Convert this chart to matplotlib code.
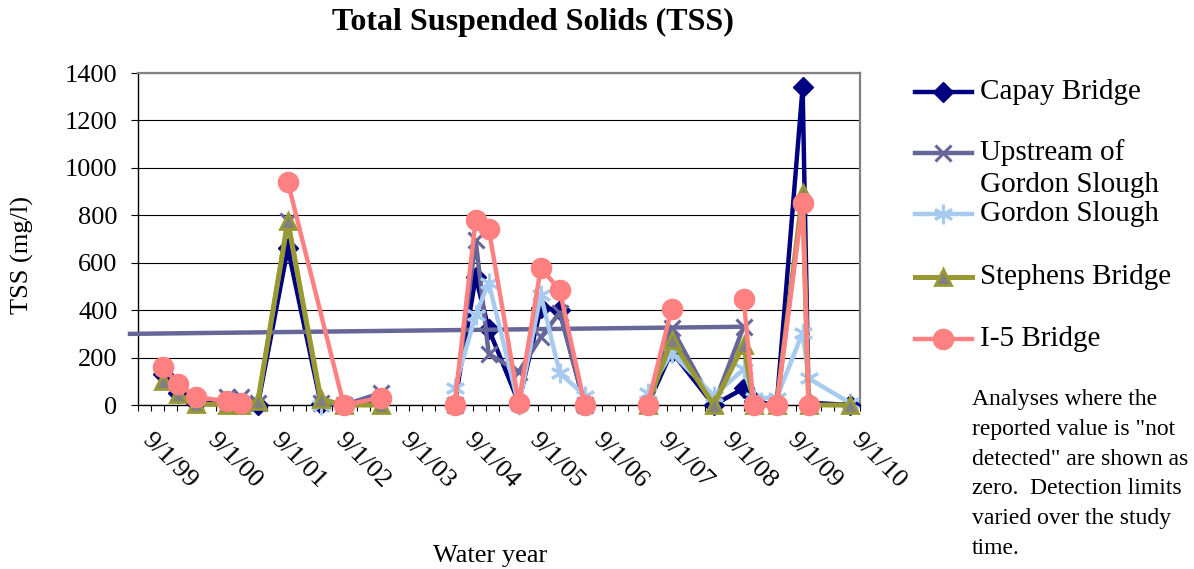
import numpy as np
import matplotlib
matplotlib.use('Agg')
import matplotlib.pyplot as plt
import matplotlib.transforms as mtransforms
from matplotlib.lines import Line2D

plt.rcParams['font.family'] = ['Liberation Serif', 'DejaVu Serif']

# ---------------- data (None = gap in the record) ----------------
capay_dates = ['2000-01-19', '2000-04-13', '2000-07-24', '2001-01-15', '2001-04-04', '2001-07-09',
               '2001-12-26', '2002-07-01', '2002-11-08', '2003-06-05', None,
               '2004-07-28', '2004-11-24', '2005-02-06', '2005-07-26', '2005-11-28', '2006-03-15',
               '2006-08-04', None,
               '2007-07-26', '2007-12-09', '2008-08-03', '2009-01-20', '2009-03-18', '2009-07-26',
               '2009-12-20', '2010-01-23', '2010-09-12']
capay_tss = [130, 50, 10, 5, 5, 0, 660, 5, 0, 20, None,
             5, 540, 320, 10, 410, 400, 0, None,
             0, 225, 0, 70, 15, 0, 1340, 10, 0]

upstream_dates = ['2001-01-15', '2001-04-04', '2001-07-09', '2001-12-26', '2002-07-01', '2002-11-08',
                  '2003-06-05', None,
                  '2004-07-28', '2004-11-24', '2005-02-06', '2005-07-26', '2005-11-28', '2006-03-15',
                  '2006-08-04', None,
                  '2007-07-26', '2007-12-09', '2008-08-03', '2009-01-20']
upstream_tss = [35, 35, 10, 775, 10, 0, 50, None,
                0, 695, 215, 140, 285, 390, 0, None,
                0, 325, 0, 330]

# linear trendline of the upstream series (end points)
upstream_trend_dates = ['1999-07-16', '2009-01-20']
upstream_trend_tss = [300, 330]

gordon_dates = ['2002-07-01', None,
                '2004-07-28', '2004-11-24', '2005-02-06', '2005-07-26', '2005-11-28', '2006-03-15',
                '2006-08-04', None,
                '2007-07-26', '2007-12-09', '2008-08-03', '2009-01-20', '2009-03-18', '2009-07-26',
                '2009-12-20', '2010-01-23', '2010-09-12']
gordon_tss = [0, None,
              70, 380, 515, 0, 465, 135, 40, None,
              50, 220, 40, 150, 30, 30, 305, 112, 10]

stephens_dates = ['2000-01-19', '2000-04-13', '2000-07-24', '2001-01-15', '2001-04-04', '2001-07-09',
                  '2001-12-26', '2002-07-01', '2002-11-08', '2003-06-05', None,
                  '2007-07-26', '2007-12-09', '2008-08-03', '2009-01-20', '2009-03-18', '2009-07-26',
                  '2009-12-20', '2010-01-23', '2010-09-12']
stephens_tss = [100, 45, 5, 0, 0, 15, 775, 25, 0, 0, None,
                0, 275, 0, 255, 0, 0, 893, 0, 0]

i5_dates = ['2000-01-19', '2000-04-13', '2000-07-24', '2001-01-15', '2001-04-04', None,
            '2001-12-26', '2002-11-08', '2003-06-05', None,
            '2004-07-28', '2004-11-24', '2005-02-06', '2005-07-26', '2005-11-28', '2006-03-15',
            '2006-08-04', None,
            '2007-07-26', '2007-12-09', None,
            '2009-01-20', '2009-03-18', '2009-07-26', '2009-12-20', '2010-01-23']
i5_tss = [160, 90, 35, 15, 10, None,
          940, 0, 30, None,
          0, 780, 742, 10, 578, 485, 0, None,
          0, 405, None,
          447, 0, 0, 852, 0]

xtick_dates = ['1999-09-01', '2000-09-01', '2001-09-01', '2002-09-01', '2003-09-01', '2004-09-01',
               '2005-09-01', '2006-09-01', '2007-09-01', '2008-09-01', '2009-09-01', '2010-09-01']
xtick_labels = ['9/1/99', '9/1/00', '9/1/01', '9/1/02', '9/1/03', '9/1/04',
                '9/1/05', '9/1/06', '9/1/07', '9/1/08', '9/1/09', '9/1/10']
ytick_values = [0, 200, 400, 600, 800, 1000, 1200, 1400]

series_names = ['Capay Bridge', 'Upstream of\nGordon Slough', 'Gordon Slough',
                'Stephens Bridge', 'I-5 Bridge']


def prep(dates, vals):
    d_out, v_out = [], []
    last = None
    for d, v in zip(dates, vals):
        if d is None:
            d = last
        last = d
        d_out.append(np.datetime64(d))
        v_out.append(np.nan if v is None else float(v))
    return np.array(d_out), np.array(v_out)


# ---------------- figure ----------------
W, H = 1194, 569
fig = plt.figure(figsize=(W / 100, H / 100), dpi=100)


def fx(px):
    return px / W


def fy(py):
    return 1 - py / H


ax = fig.add_axes([fx(138.3), fy(405), fx(860) - fx(138.3), fy(73) - fy(405)])

styles = [
    dict(color='#000080', lw=3.2, marker='D', ms=10, mfc='#000080', mec='#000080', mew=1),
    dict(color='#666699', lw=3.2, marker='x', ms=11, mfc='#666699', mec='#666699', mew=2.2),
    dict(color='#A6CAF0', lw=3.2, marker=(6, 2, 0), ms=14, mfc='#A6CAF0', mec='#A6CAF0', mew=2.2),
    dict(color='#999933', lw=3.6, marker='^', ms=12, mfc='#808080', mec='#999933', mew=2),
    dict(color='#FF8080', lw=3.2, marker='o', ms=14.5, mfc='#FF8080', mec='#FF8080', mew=1),
]

all_series = [(capay_dates, capay_tss), (upstream_dates, upstream_tss), (gordon_dates, gordon_tss),
              (stephens_dates, stephens_tss), (i5_dates, i5_tss)]

for k, ((dts, vals), st) in enumerate(zip(all_series, styles)):
    d, v = prep(dts, vals)
    ax.plot(d, v, clip_on=False, zorder=3 + k, **st)
    if k == 1:
        td, tv = prep(upstream_trend_dates, upstream_trend_tss)
        ax.plot(td, tv, color='#666699', lw=3.2, clip_on=False, zorder=3 + k)

x0 = np.datetime64('1999-09-01')
x1 = x0 + np.timedelta64(56 * 73, 'D')
ax.set_xlim(x0, x1)
ax.set_ylim(0, 1400)

ax.set_yticks(ytick_values)
ax.set_yticklabels([str(v) for v in ytick_values], fontsize=19)
ax.yaxis.grid(True, color='black', lw=0.8)
ax.set_axisbelow(True)

# x ticks: minor marks every 73 days, labels placed at each 9/1
minor = [x0 + np.timedelta64(73 * k, 'D') for k in range(57)]
ax.set_xticks(minor)
ax.set_xticklabels([])
ax.tick_params(axis='x', which='both', direction='out', length=4, width=0.8, color='black')
ax.tick_params(axis='y', which='major', direction='out', length=5, width=0.8, pad=10)

lab_tr = ax.get_xaxis_transform() + mtransforms.ScaledTranslation(7 / 100, -32 / 100,
                                                                   fig.dpi_scale_trans)
for d, lab in zip(xtick_dates, xtick_labels):
    ax.text(np.datetime64(d), 0, lab, transform=lab_tr, fontsize=19, rotation=-45,
            ha='left', va='center', rotation_mode='anchor', clip_on=False)

for s in ['left', 'bottom']:
    ax.spines[s].set_color('black')
    ax.spines[s].set_linewidth(1.0)
for s in ['top', 'right']:
    ax.spines[s].set_color('#808080')
    ax.spines[s].set_linewidth(1.6)

# ---------------- texts ----------------
fig.text(fx(533), fy(22), 'Total Suspended Solids (TSS)', ha='center', va='center',
         fontsize=23, fontweight='bold')
fig.text(fx(22), fy(255), 'TSS (mg/l)', rotation=90, ha='center', va='center', fontsize=19)
fig.text(fx(490), fy(556), 'Water year', ha='center', va='center', fontsize=19)

note_lines = ['Analyses where the', 'reported value is "not', 'detected" are shown as',
              'zero.  Detection limits', 'varied over the study', 'time.']
for i, line in enumerate(note_lines):
    fig.text(fx(972), fy(400 + i * 29.6), line, ha='left', va='center', fontsize=17)

# ---------------- legend (manual) ----------------
legend_y = [92, 153, 214, 277, 339]
for name, st, y in zip(series_names, styles, legend_y):
    st_line = {k: v for k, v in st.items() if k in ('color', 'lw')}
    fig.add_artist(Line2D([fx(915), fx(972)], [fy(y), fy(y)], transform=fig.transFigure, **st_line))
    st_mk = {k: v for k, v in st.items() if k not in ('color', 'lw')}
    fig.add_artist(Line2D([fx(943)], [fy(y)], transform=fig.transFigure, linestyle='none',
                          color=st['color'], **st_mk))
    if '\n' in name:
        first, second = name.split('\n')
        fig.text(fx(980), fy(y), first, ha='left', va='center', fontsize=21)
        fig.text(fx(980), fy(y + 32), second, ha='left', va='center', fontsize=21)
    else:
        fig.text(fx(980), fy(y), name, ha='left', va='center', fontsize=21)

fig.savefig('out.png', dpi=100)
